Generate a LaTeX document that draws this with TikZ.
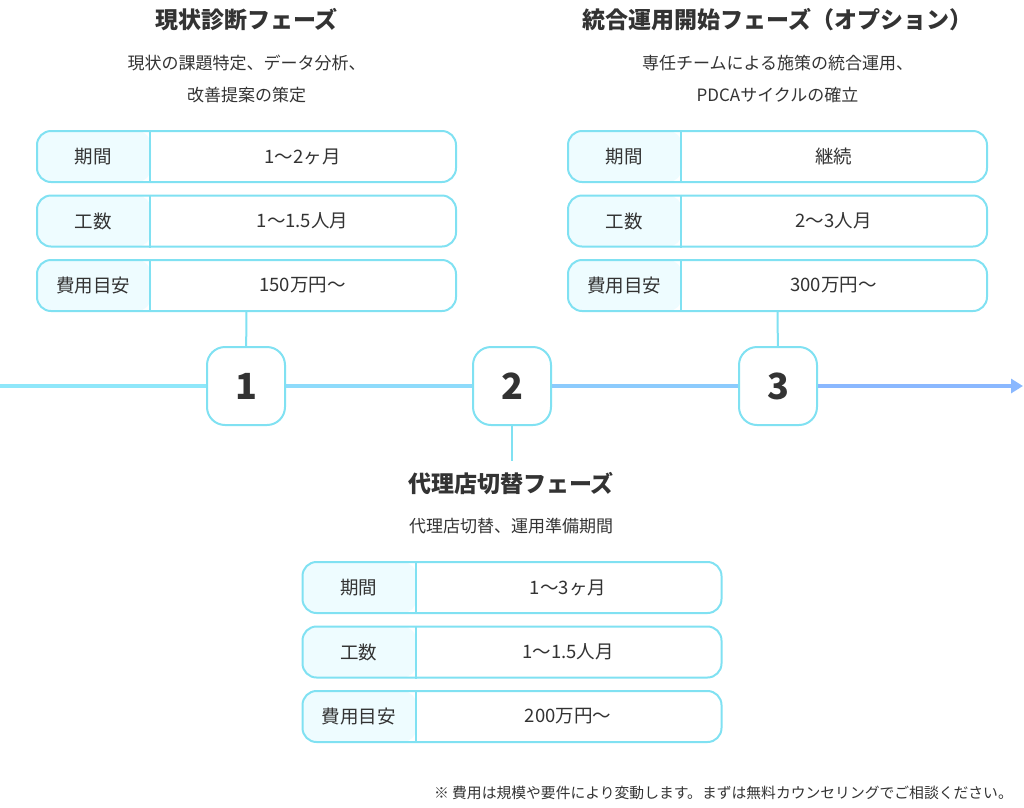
\documentclass[tikz,border=0pt]{standalone}
\usepackage{fontspec}
\setmainfont{Noto Sans CJK JP}
\usetikzlibrary{arrows.meta,positioning}
\definecolor{tlcyan}{RGB}{143,231,250}
\definecolor{tlblue}{RGB}{138,184,255}
\definecolor{boxline}{RGB}{128,225,242}
\definecolor{cellfill}{RGB}{238,252,255}
\definecolor{textgray}{RGB}{51,51,51}

\tikzset{
  rowbox/.style={draw=boxline, line width=2pt, rounded corners=14pt, fill=white,
    minimum width=419pt, minimum height=51pt, inner sep=0pt,
    path picture={\fill[cellfill] (path picture bounding box.north west)
      rectangle ([xshift=114pt]path picture bounding box.south west);}},
  rowtext/.style={text=textgray, inner sep=0pt, font=\fontsize{18.5}{22}\selectfont},
  stepnum/.style={draw=boxline, line width=2pt, rounded corners=18pt, fill=white,
    minimum size=78pt, inner sep=0pt, text=textgray,
    font=\fontsize{36}{40}\selectfont\bfseries},
  phasetitle/.style={text=textgray, inner sep=0pt, font=\fontsize{23}{27}\selectfont\bfseries},
  phasenote/.style={text=textgray, inner sep=0pt, align=center, font=\fontsize{17}{32}\selectfont},
  stem/.style={boxline, line width=2pt},
  timeline/.style={line width=3.5pt}
}

% one row of a phase table: name, x, y, key, value
\newcommand{\inforow}[5]{%
  \node[rowbox] (#1) at (#2,#3) {};
  \draw[stem] ([xshift=114pt]#1.north west) -- ([xshift=114pt]#1.south west);
  \node[rowtext] (#1k) at ([xshift=57pt]#1.west) {#4};
  \node[rowtext] (#1v) at ([xshift=266.5pt]#1.west) {#5};
}

\begin{document}
\begin{tikzpicture}[x=1pt, y=-1pt]
\useasboundingbox (0,0) rectangle (1024,807);
% Phase 1
\node[phasetitle] (t1) at (246.5,20) {現状診断フェーズ};
\node[phasenote] (s1) at (246.5,79) {現状の課題特定、データ分析、\\改善提案の策定};
\inforow{a1}{246.5}{156.5}{期間}{1〜2ヶ月}
\inforow{a2}{246.5}{221}{工数}{1〜1.5人月}
\inforow{a3}{246.5}{285.5}{費用目安}{150万円〜}
% Phase 3
\node[phasetitle] (t3) at (777.5,20) {統合運用開始フェーズ（オプション）};
\node[phasenote] (s3) at (777.5,79) {専任チームによる施策の統合運用、\\PDCAサイクルの確立};
\inforow{c1}{777.5}{156.5}{期間}{継続}
\inforow{c2}{777.5}{221}{工数}{2〜3人月}
\inforow{c3}{777.5}{285.5}{費用目安}{300万円〜}
% Timeline
\coordinate (tl0) at (0,386);
\coordinate (tl4) at (1023,386);
\node[stepnum] (n1) at (246,386) {1};
\node[stepnum] (n2) at (512,386) {2};
\node[stepnum] (n3) at (778,386) {3};
\draw[timeline, tlcyan] (tl0) -- (n1);
\draw[timeline, tlcyan!75!tlblue] (n1) -- (n2);
\draw[timeline, tlcyan!40!tlblue] (n2) -- (n3);
\draw[timeline, tlblue, -{Triangle[length=12pt,width=14pt]}] (n3) -- (tl4);
\draw[stem] (a3) -- (n1);
\draw[stem] (c3) -- (n3);
% Phase 2
\coordinate (c2top) at (512,461);
\draw[stem] (n2) -- (c2top);
\node[phasetitle] (t2) at (511,484) {代理店切替フェーズ};
\node[phasenote] (s2) at (511,526) {代理店切替、運用準備期間};
\inforow{b1}{512}{587.5}{期間}{1〜3ヶ月}
\inforow{b2}{512}{652}{工数}{1〜1.5人月}
\inforow{b3}{512}{716.5}{費用目安}{200万円〜}
% Note
\node[text=textgray, inner sep=0pt, anchor=east, font=\fontsize{14.8}{18}\selectfont] (fn) at (1013,793)
  {※ 費用は規模や要件により変動します。まずは無料カウンセリングでご相談ください。};
\end{tikzpicture}
\end{document}
